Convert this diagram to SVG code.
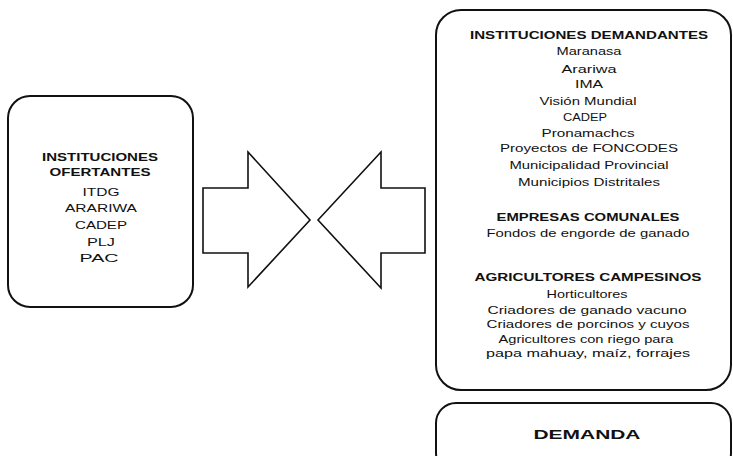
<svg xmlns="http://www.w3.org/2000/svg" width="733" height="456" viewBox="0 0 733 456">
<style>
.box{fill:#fff;stroke:#111;stroke-width:2}
.arr{fill:#fff;stroke:#111;stroke-width:1.6;stroke-linejoin:miter}
text{font-family:"Liberation Sans",Arial,sans-serif;fill:#111;text-anchor:middle}
.h{font-weight:bold;font-size:11px}
.t{font-size:10px}
.b{font-size:11px}
.d{font-weight:bold;font-size:13px}
</style>
<rect width="733" height="456" fill="#fff"/>
<g id="ofertantes">
<rect class="box" x="8" y="96" width="185" height="211" rx="22"/>
<text class="h" x="100" y="161" textLength="116" lengthAdjust="spacingAndGlyphs">INSTITUCIONES</text>
<text class="h" x="100" y="176" textLength="101" lengthAdjust="spacingAndGlyphs">OFERTANTES</text>
<text class="b" x="101" y="196" textLength="37" lengthAdjust="spacingAndGlyphs">ITDG</text>
<text class="t" x="101" y="212" textLength="72" lengthAdjust="spacingAndGlyphs">ARARIWA</text>
<text class="b" x="101" y="229" textLength="52" lengthAdjust="spacingAndGlyphs">CADEP</text>
<text class="t" x="101" y="246" textLength="28" lengthAdjust="spacingAndGlyphs">PLJ</text>
<text class="t" x="99" y="262" textLength="39" lengthAdjust="spacingAndGlyphs">PAC</text>
</g>
<g id="connectors">
<polygon class="arr" points="203,188 248,188 248,152 310,220 248,287 248,253 203,253"/>
<polygon class="arr" points="318,220 381,152 381,188 425,188 425,253 381,253 381,288"/>
</g>
<g id="demandantes">
<rect class="box" x="436" y="10" width="295" height="380" rx="25"/>
<text class="h" x="589" y="39" textLength="238" lengthAdjust="spacingAndGlyphs">INSTITUCIONES DEMANDANTES</text>
<text class="t" x="589" y="55" textLength="65" lengthAdjust="spacingAndGlyphs">Maranasa</text>
<text class="b" x="589" y="73" textLength="55" lengthAdjust="spacingAndGlyphs">Arariwa</text>
<text class="t" x="589" y="88" textLength="28" lengthAdjust="spacingAndGlyphs">IMA</text>
<text class="t" x="588" y="105" textLength="97" lengthAdjust="spacingAndGlyphs">Visión Mundial</text>
<text class="b" x="585" y="121" textLength="44" lengthAdjust="spacingAndGlyphs">CADEP</text>
<text class="t" x="588" y="137" textLength="93" lengthAdjust="spacingAndGlyphs">Pronamachcs</text>
<text class="b" x="589" y="152" textLength="178" lengthAdjust="spacingAndGlyphs">Proyectos de FONCODES</text>
<text class="b" x="589" y="169" textLength="159" lengthAdjust="spacingAndGlyphs">Municipalidad Provincial</text>
<text class="t" x="589" y="186" textLength="142" lengthAdjust="spacingAndGlyphs">Municipios Distritales</text>
<text class="h" x="588" y="221" textLength="183" lengthAdjust="spacingAndGlyphs">EMPRESAS COMUNALES</text>
<text class="t" x="588" y="237" textLength="203" lengthAdjust="spacingAndGlyphs">Fondos de engorde de ganado</text>
<text class="h" x="588" y="281" textLength="227" lengthAdjust="spacingAndGlyphs">AGRICULTORES CAMPESINOS</text>
<text class="b" x="587" y="298" textLength="81" lengthAdjust="spacingAndGlyphs">Horticultores</text>
<text class="b" x="587" y="314" textLength="199" lengthAdjust="spacingAndGlyphs">Criadores de ganado vacuno</text>
<text class="b" x="588" y="328" textLength="203" lengthAdjust="spacingAndGlyphs">Criadores de porcinos y cuyos</text>
<text class="b" x="586" y="343" textLength="175" lengthAdjust="spacingAndGlyphs">Agricultores con riego para</text>
<text class="t" x="588" y="357" textLength="204" lengthAdjust="spacingAndGlyphs">papa mahuay, maíz, forrajes</text>
</g>
<g id="demanda">
<rect class="box" x="436" y="403" width="295" height="70" rx="20"/>
<text class="d" x="587" y="439" textLength="107" lengthAdjust="spacingAndGlyphs">DEMANDA</text>
</g>
</svg>
